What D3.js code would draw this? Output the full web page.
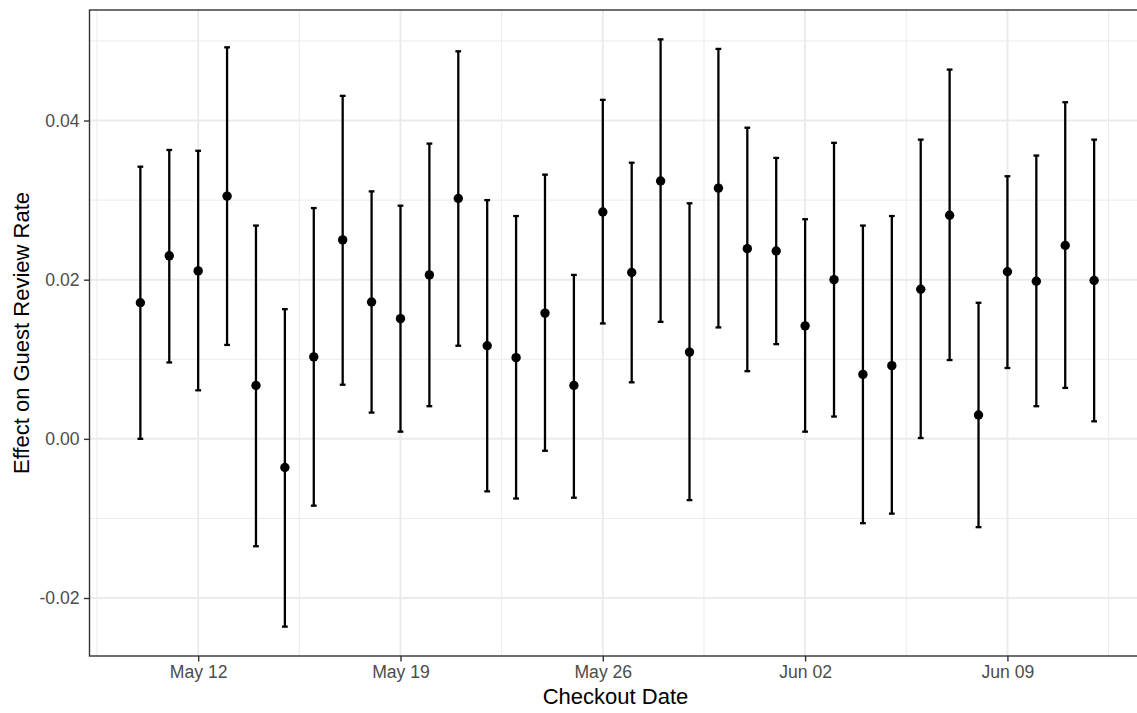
<!DOCTYPE html>
<html>
<head>
<meta charset="utf-8">
<script src="https://cdn.jsdelivr.net/npm/d3@7"></script>
<style>
  body { margin: 0; background: #fff; overflow: hidden; }
  text { font-family: "Liberation Sans", Arial, sans-serif; }
</style>
</head>
<body>
<svg id="chart"></svg>
<script>
var checkoutDates = ["2019-05-10","2019-05-11","2019-05-12","2019-05-13","2019-05-14","2019-05-15","2019-05-16",
  "2019-05-17","2019-05-18","2019-05-19","2019-05-20","2019-05-21","2019-05-22","2019-05-23","2019-05-24",
  "2019-05-25","2019-05-26","2019-05-27","2019-05-28","2019-05-29","2019-05-30","2019-05-31","2019-06-01",
  "2019-06-02","2019-06-03","2019-06-04","2019-06-05","2019-06-06","2019-06-07","2019-06-08","2019-06-09",
  "2019-06-10","2019-06-11","2019-06-12"];
var estimates = [0.0171, 0.0230, 0.0211, 0.0305, 0.0067, -0.0036, 0.0103, 0.0250, 0.0172, 0.0151, 0.0206,
  0.0302, 0.0117, 0.0102, 0.0158, 0.0067, 0.0285, 0.0209, 0.0324, 0.0109, 0.0315, 0.0239, 0.0236, 0.0142,
  0.0200, 0.0081, 0.0092, 0.0188, 0.0281, 0.0030, 0.0210, 0.0198, 0.0243, 0.0199];
var lowerCI = [0.0000, 0.0096, 0.0061, 0.0118, -0.0135, -0.0236, -0.0084, 0.0068, 0.0033, 0.0009, 0.0041,
  0.0117, -0.0066, -0.0075, -0.0015, -0.0074, 0.0145, 0.0071, 0.0147, -0.0077, 0.0140, 0.0085, 0.0119, 0.0009,
  0.0028, -0.0106, -0.0094, 0.0001, 0.0099, -0.0111, 0.0089, 0.0041, 0.0064, 0.0022];
var upperCI = [0.0342, 0.0363, 0.0362, 0.0492, 0.0268, 0.0163, 0.0290, 0.0431, 0.0311, 0.0293, 0.0371,
  0.0487, 0.0300, 0.0280, 0.0332, 0.0206, 0.0426, 0.0347, 0.0502, 0.0296, 0.0490, 0.0391, 0.0353, 0.0276,
  0.0372, 0.0268, 0.0280, 0.0376, 0.0464, 0.0171, 0.0330, 0.0356, 0.0423, 0.0376];
var xTickDates = ["2019-05-12","2019-05-19","2019-05-26","2019-06-02","2019-06-09"];
var yTicks = [-0.02, 0, 0.02, 0.04];
var yMinorTicks = [-0.01, 0.01, 0.03, 0.05];

var width = 1137;
var height = 713;
// the panel runs a little past the right edge of the picture (it is cropped there)
var margin = { top: 10, right: -8, bottom: 57, left: 89.5 };
var DAY = 86400000;
var parse = d3.utcParse("%Y-%m-%d");

var dataset = checkoutDates.map(function(d, i) {
  return { date: parse(d), est: estimates[i], lo: lowerCI[i], hi: upperCI[i] };
});

// ggplot-like expansion: errorbar width 0.2 day, then 5% each side
var ext = d3.extent(dataset, function(d) { return d.date; });
var span = (ext[1] - ext[0]) / DAY + 0.2;
var pad = (0.1 + 0.05 * span) * DAY;
var xScale = d3.scaleUtc()
  .domain([new Date(+ext[0] - pad), new Date(+ext[1] + pad)])
  .range([margin.left, width - margin.right]);

var yLo = d3.min(lowerCI), yHi = d3.max(upperCI);
var yPad = (yHi - yLo) * 0.05;
var yScale = d3.scaleLinear()
  .domain([yLo - yPad, yHi + yPad])
  .range([height - margin.bottom, margin.top]);

var svg = d3.select("#chart")
  .attr("width", width)
  .attr("height", height);

var x0 = margin.left, x1 = width - margin.right;
var y0 = margin.top, y1 = height - margin.bottom;

// minor grid
var xMajor = xTickDates.map(parse);
var xMinor = [];
for (var i = -1; i < xMajor.length; i++) {
  var base = i < 0 ? +xMajor[0] - 7 * DAY : +xMajor[i];
  var m = new Date(base + 3.5 * DAY);
  if (xScale(m) > x0 && xScale(m) < x1) xMinor.push(m);
}

svg.append("g").selectAll("line")
  .data(xMinor).enter().append("line")
  .attr("x1", function(d) { return xScale(d); })
  .attr("x2", function(d) { return xScale(d); })
  .attr("y1", y0).attr("y2", y1)
  .attr("stroke", "#ebebeb").attr("stroke-width", 1);

svg.append("g").selectAll("line")
  .data(yMinorTicks.filter(function(v) { return yScale(v) > y0 && yScale(v) < y1; }))
  .enter().append("line")
  .attr("x1", x0).attr("x2", x1)
  .attr("y1", function(d) { return yScale(d); })
  .attr("y2", function(d) { return yScale(d); })
  .attr("stroke", "#ebebeb").attr("stroke-width", 1);

// major grid
svg.append("g").selectAll("line")
  .data(xMajor).enter().append("line")
  .attr("x1", function(d) { return xScale(d); })
  .attr("x2", function(d) { return xScale(d); })
  .attr("y1", y0).attr("y2", y1)
  .attr("stroke", "#ebebeb").attr("stroke-width", 2);

svg.append("g").selectAll("line")
  .data(yTicks).enter().append("line")
  .attr("x1", x0).attr("x2", x1)
  .attr("y1", function(d) { return yScale(d); })
  .attr("y2", function(d) { return yScale(d); })
  .attr("stroke", "#ebebeb").attr("stroke-width", 2);

// error bars
var capHalf = 0.1 * DAY;
var bars = svg.append("g")
  .attr("stroke", "#000")
  .attr("stroke-width", 2.3);

bars.selectAll(".stem")
  .data(dataset).enter().append("line")
  .attr("class", "stem")
  .attr("x1", function(d) { return xScale(d.date); })
  .attr("x2", function(d) { return xScale(d.date); })
  .attr("y1", function(d) { return yScale(d.lo); })
  .attr("y2", function(d) { return yScale(d.hi); });

bars.selectAll(".capHi")
  .data(dataset).enter().append("line")
  .attr("class", "capHi")
  .attr("x1", function(d) { return xScale(new Date(+d.date - capHalf)); })
  .attr("x2", function(d) { return xScale(new Date(+d.date + capHalf)); })
  .attr("y1", function(d) { return yScale(d.hi); })
  .attr("y2", function(d) { return yScale(d.hi); });

bars.selectAll(".capLo")
  .data(dataset).enter().append("line")
  .attr("class", "capLo")
  .attr("x1", function(d) { return xScale(new Date(+d.date - capHalf)); })
  .attr("x2", function(d) { return xScale(new Date(+d.date + capHalf)); })
  .attr("y1", function(d) { return yScale(d.lo); })
  .attr("y2", function(d) { return yScale(d.lo); });

svg.append("g").selectAll("circle")
  .data(dataset).enter().append("circle")
  .attr("cx", function(d) { return xScale(d.date); })
  .attr("cy", function(d) { return yScale(d.est); })
  .attr("r", 4.7)
  .attr("fill", "#000");

// panel border
svg.append("rect")
  .attr("x", x0).attr("y", y0)
  .attr("width", x1 - x0).attr("height", y1 - y0)
  .attr("fill", "none")
  .attr("stroke", "#333333")
  .attr("stroke-width", 1.4);

// axes
var xAxis = d3.axisBottom(xScale)
  .tickValues(xMajor)
  .tickFormat(d3.utcFormat("%b %d"))
  .tickSize(5.5)
  .tickPadding(4);

var gx = svg.append("g")
  .attr("transform", "translate(0," + y1 + ")")
  .call(xAxis);
gx.select(".domain").remove();
gx.selectAll("line").attr("stroke", "#333333").attr("stroke-width", 1.4);
gx.selectAll("text").attr("fill", "#4d4d4d").style("font-size", "17.6px")
  .style("font-family", "'Liberation Sans', Arial, sans-serif");

var fmt = d3.format(".2f");
var yAxis = d3.axisLeft(yScale)
  .tickValues(yTicks)
  .tickFormat(function(d) { return fmt(d).replace("\u2212", "-"); })
  .tickSize(5.5)
  .tickPadding(4.4);

var gy = svg.append("g")
  .attr("transform", "translate(" + x0 + ",0)")
  .call(yAxis);
gy.select(".domain").remove();
gy.selectAll("line").attr("stroke", "#333333").attr("stroke-width", 1.4);
gy.selectAll("text").attr("fill", "#4d4d4d").style("font-size", "17.6px")
  .style("font-family", "'Liberation Sans', Arial, sans-serif");

svg.append("text")
  .attr("x", 615.5)
  .attr("y", 704)
  .attr("text-anchor", "middle")
  .style("font-size", "22px")
  .attr("fill", "#000")
  .text("Checkout Date");

svg.append("text")
  .attr("transform", "rotate(-90)")
  .attr("x", -(y0 + y1) / 2)
  .attr("y", 29)
  .attr("text-anchor", "middle")
  .style("font-size", "22px")
  .attr("fill", "#000")
  .text("Effect on Guest Review Rate");
</script>
</body>
</html>
